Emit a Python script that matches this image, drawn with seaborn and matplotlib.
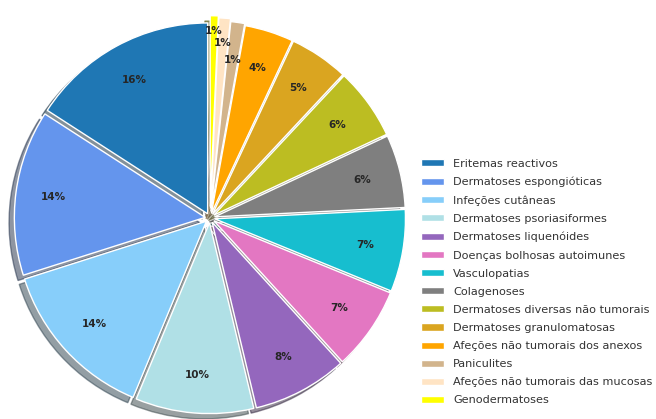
import matplotlib
matplotlib.use("Agg")
from matplotlib import pyplot as plt
import seaborn as sns

categories = ['Eritemas reactivos', 'Dermatoses espongióticas', 'Infeções cutâneas',
              'Dermatoses psoriasiformes', 'Dermatoses liquenóides', 'Doenças bolhosas autoimunes',
              'Vasculopatias', 'Colagenoses', 'Dermatoses diversas não tumorais',
              'Dermatoses granulomatosas', 'Afeções não tumorais dos anexos', 'Paniculites',
              'Afeções não tumorais das mucosas', 'Genodermatoses']
values = [16.2, 14.3, 14.1, 10.2, 8.2, 7.2, 7.1, 6.3, 6.2, 5.1, 4.2, 1.2, 1.0, 0.7]
colors = ['#1f77b4', 'cornflowerblue', 'lightskyblue', 'powderblue', '#9467bd', '#e377c2',
          '#17becf', '#7f7f7f', '#bcbd22', 'goldenrod', 'orange', 'tan', 'bisque', 'yellow']

sns.set_theme(style="white")
plt.rcParams['font.family'] = ['DejaVu Sans']

fig = plt.figure(figsize=(6.56, 4.19), dpi=100)
ax = fig.add_axes([0, 0, 0.64, 1])

explode = [0.025] * 11 + [0.035, 0.05, 0.06]
wedges, texts, autotexts = ax.pie(values, colors=sns.color_palette(colors), explode=explode,
                                  startangle=90, shadow=True, autopct='%1.0f%%',
                                  pctdistance=0.8, textprops={'fontsize': 7.5, 'fontweight': 'bold'})

# spread the three small labels apart (radial shift)
for t, k in zip(autotexts[-3:], [1.0, 1.08, 1.14]):
    x, y = t.get_position()
    t.set_position((x * k, y * k))

ax.set_aspect('equal')
ax.set_xlim(-1.1, 1.1)
ax.set_ylim(-1.052, 1.141)

fig.legend(wedges, categories, loc='center left', bbox_to_anchor=(0.627, 0.327),
           frameon=False, fontsize=8.1, labelspacing=0.72, handlelength=2.0,
           handleheight=0.6, labelcolor='#333333')

plt.savefig('out.png', dpi=100)
